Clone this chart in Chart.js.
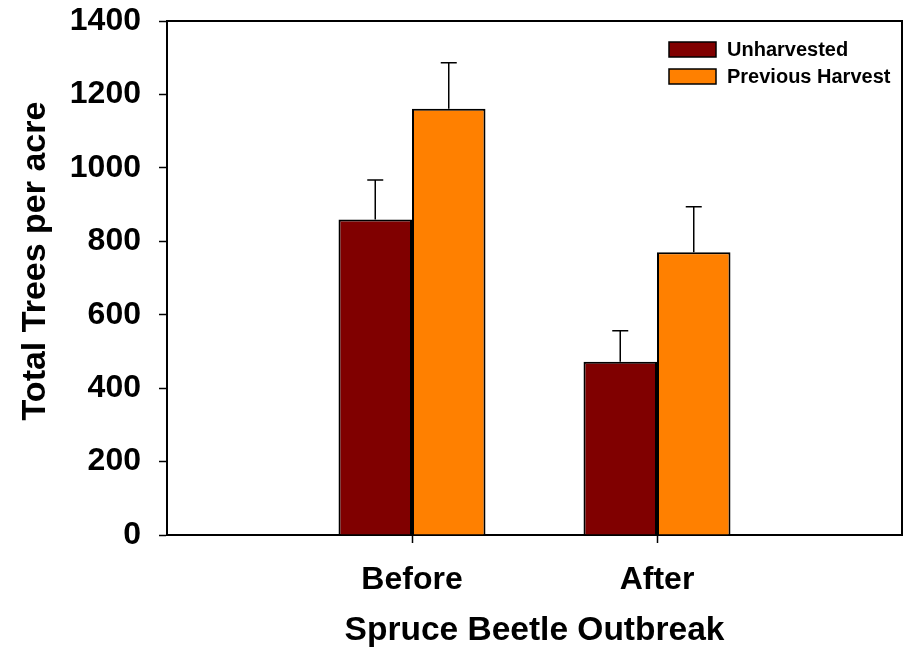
<!doctype html>
<html lang="en">
<head>
  <meta charset="utf-8">
  <title>Total Trees per acre</title>
  <style>
    * { margin: 0; padding: 0; }
    body { background: #fff; }
  </style>
</head>
<body>
  <canvas id="myChart" width="909" height="650"></canvas>
  <script src="https://cdn.jsdelivr.net/npm/chart.js/dist/chart.umd.min.js"></script>
  <script>
    const categories = ['Before', 'After'];
    const seriesNames = ['Unharvested', 'Previous Harvest'];
    const unharvested = [859, 472];
    const previousHarvest = [1161, 770];
    const unharvestedErr = [108, 84];
    const previousHarvestErr = [125, 124];
    const yTicks = [0, 200, 400, 600, 800, 1000, 1200, 1400];

    const FONT = "Arial, 'Liberation Sans', sans-serif";
    const colors = ['#800000', '#FF8000'];
    const errors = [unharvestedErr, previousHarvestErr];

    // empty slots either side so the two groups sit at 1/3 and 2/3 of the axis
    const labels = ['', ...categories, ''];
    const pad = arr => [null, ...arr, null];

    const data = {
      labels,
      datasets: [
        { label: seriesNames[0], data: pad(unharvested), backgroundColor: colors[0] },
        { label: seriesNames[1], data: pad(previousHarvest), backgroundColor: colors[1] }
      ].map(ds => Object.assign(ds, {
        borderColor: '#000',
        borderWidth: 2,
        categoryPercentage: 0.6,
        barPercentage: 1
      }))
    };

    // error bars (upper only)
    const errorBars = {
      id: 'errorBars',
      afterDatasetsDraw(chart) {
        const { ctx, scales: { y } } = chart;
        ctx.save();
        ctx.strokeStyle = '#000';
        ctx.lineWidth = 1.5;
        chart.data.datasets.forEach((ds, i) => {
          chart.getDatasetMeta(i).data.forEach((bar, j) => {
            const v = ds.data[j];
            if (v === null) return;
            const top = y.getPixelForValue(v + errors[i][j - 1]);
            ctx.beginPath();
            ctx.moveTo(bar.x, bar.y);
            ctx.lineTo(bar.x, top);
            ctx.moveTo(bar.x - 8, top);
            ctx.lineTo(bar.x + 8, top);
            ctx.stroke();
          });
        });
        ctx.restore();
      }
    };

    // frame, legend and y title
    const extras = {
      id: 'extras',
      afterDraw(chart) {
        const { ctx, chartArea: { top, bottom, left, right } } = chart;
        ctx.save();
        ctx.strokeStyle = '#000';
        ctx.lineWidth = 2;
        ctx.beginPath();
        ctx.moveTo(left, top);
        ctx.lineTo(right, top);
        ctx.lineTo(right, bottom);
        ctx.stroke();

        // legend
        ctx.font = 'bold 20px ' + FONT;
        ctx.textBaseline = 'middle';
        ctx.textAlign = 'left';
        ctx.lineWidth = 1.5;
        chart.data.datasets.forEach((ds, i) => {
          const by = 42 + i * 27;
          ctx.fillStyle = ds.backgroundColor;
          ctx.fillRect(669, by, 47, 15);
          ctx.strokeRect(669, by, 47, 15);
          ctx.fillStyle = '#000';
          ctx.fillText(ds.label, 727, by + 8);
        });

        // y title
        ctx.translate(45, 261);
        ctx.rotate(-Math.PI / 2);
        ctx.font = 'bold 34px ' + FONT;
        ctx.textAlign = 'center';
        ctx.textBaseline = 'alphabetic';
        ctx.fillText('Total Trees per acre', 0, 0);
        ctx.restore();
      }
    };

    const config = {
      type: 'bar',
      data,
      options: {
        responsive: false,
        animation: false,
        layout: { padding: { top: 21, right: 7, left: 0, bottom: 0 } },
        plugins: {
          legend: { display: false },
          tooltip: { enabled: false }
        },
        scales: {
          x: {
            offset: false,
            afterFit: scale => {
              scale.height = 115;
              scale.paddingLeft = 0;
              scale.paddingRight = 0;
            },
            border: { color: '#000', width: 2 },
            grid: {
              offset: false,
              drawOnChartArea: false,
              tickLength: 8,
              tickWidth: 1.5,
              color: c => (c.index === 1 || c.index === 2) ? '#000' : 'rgba(0,0,0,0)'
            },
            ticks: {
              color: '#000',
              padding: 18,
              maxRotation: 0,
              autoSkip: false,
              font: { family: FONT, size: 32, weight: 'bold' }
            },
            title: {
              display: true,
              text: 'Spruce Beetle Outbreak',
              color: '#000',
              padding: { top: 0, bottom: 2 },
              font: { family: FONT, size: 33.5, weight: 'bold', lineHeight: 1 }
            }
          },
          y: {
            min: 0,
            max: 1400,
            afterFit: scale => {
              scale.width = 167;
              scale.paddingTop = 0;
              scale.paddingBottom = 0;
            },
            afterBuildTicks: scale => { scale.ticks = yTicks.map(v => ({ value: v })); },
            border: { color: '#000', width: 2 },
            grid: {
              drawOnChartArea: false,
              tickLength: 8,
              tickWidth: 1.5,
              color: '#000'
            },
            ticks: {
              color: '#000',
              padding: 18,
              callback: v => String(v),
              font: { family: FONT, size: 32, weight: 'bold' }
            }
          }
        }
      },
      plugins: [errorBars, extras]
    };

    const myChart = new Chart(document.getElementById('myChart'), config);
  </script>
</body>
</html>
